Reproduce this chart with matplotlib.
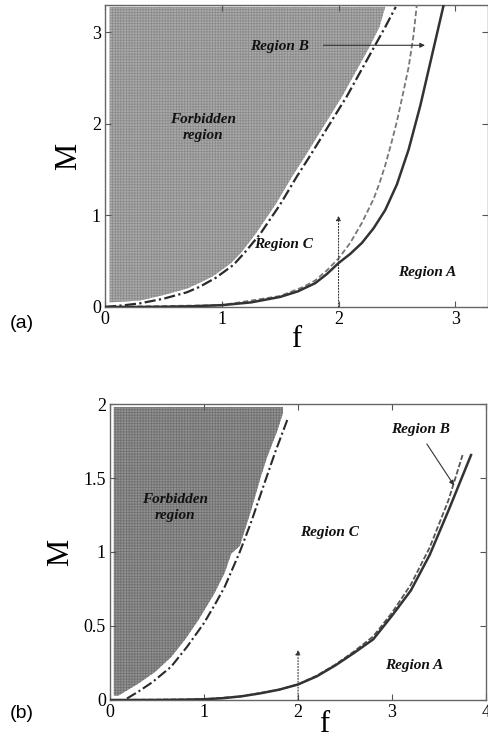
import numpy as np
import matplotlib
matplotlib.use('Agg')
import matplotlib.pyplot as plt

plt.rcParams['font.family'] = ['Liberation Serif', 'DejaVu Serif']
plt.rcParams['hatch.linewidth'] = 0.6

# ---------------- panel (a) data ----------------
a_solid_f = [0, 0.25, 0.5, 0.75, 1.0, 1.25, 1.5, 1.65, 1.8, 1.9, 2.0, 2.1, 2.2,
             2.3, 2.4, 2.5, 2.6, 2.7, 2.8, 2.9]
a_solid_M = [0, 0, 0.002, 0.008, 0.02, 0.05, 0.11, 0.17, 0.26, 0.36, 0.48, 0.58,
             0.70, 0.86, 1.06, 1.34, 1.72, 2.2, 2.75, 3.3]

a_dash_f = [0, 1.0, 1.5, 1.7, 1.8, 1.9, 2.0, 2.1, 2.2, 2.3, 2.35, 2.4, 2.45,
            2.5, 2.55, 2.6, 2.64, 2.67]
a_dash_M = [0, 0.02, 0.12, 0.22, 0.29, 0.40, 0.53, 0.70, 0.92, 1.18, 1.35, 1.55,
            1.78, 2.03, 2.32, 2.62, 2.95, 3.3]

a_dd_f = [0, 0.17, 0.3, 0.5, 0.7, 0.81, 0.95, 1.1, 1.2, 1.33, 1.5, 1.64, 1.76,
          1.9, 2.07, 2.2, 2.3, 2.4, 2.49]
a_dd_M = [0, 0.02, 0.04, 0.09, 0.16, 0.22, 0.32, 0.46, 0.60, 0.80, 1.12, 1.42,
          1.66, 1.95, 2.30, 2.60, 2.83, 3.06, 3.28]

a_forb_f = [0.04, 0.3, 0.5, 0.7, 0.82, 0.93, 1.08, 1.17, 1.29, 1.46, 1.60,
            1.72, 1.86, 2.03, 2.16, 2.26, 2.35, 2.4]
a_forb_M = [0.05, 0.07, 0.13, 0.2, 0.27, 0.34, 0.48, 0.60, 0.80, 1.12, 1.42,
            1.66, 1.95, 2.30, 2.60, 2.83, 3.06, 3.28]
a_forb_left = 0.04

a_xticks = [0, 1, 2, 3]
a_yticks = [0, 1, 2, 3]
a_xlim = (0, 3.28)
a_ylim = (0, 3.3)

# ---------------- panel (b) data ----------------
b_solid_f = [0, 0.5, 0.8, 1.0, 1.2, 1.4, 1.6, 1.8, 2.0, 2.2, 2.4, 2.6, 2.8,
             3.0, 3.2, 3.4, 3.6, 3.84]
b_solid_M = [0, 0, 0.002, 0.005, 0.012, 0.025, 0.045, 0.07, 0.105, 0.16, 0.235,
             0.32, 0.41, 0.57, 0.74, 0.98, 1.28, 1.655]

b_dash_f = [0, 1.0, 1.4, 1.8, 2.0, 2.2, 2.4, 2.6, 2.8, 3.0, 3.2, 3.4, 3.6, 3.75]
b_dash_M = [0, 0.005, 0.025, 0.07, 0.105, 0.165, 0.24, 0.33, 0.43, 0.59, 0.78,
            1.03, 1.35, 1.655]

b_dd_f = [0.18, 0.30, 0.45, 0.65, 0.82, 1.0, 1.12, 1.22, 1.38, 1.5, 1.64, 1.76, 1.89]
b_dd_M = [0.01, 0.056, 0.12, 0.225, 0.36, 0.52, 0.65, 0.765, 1.0, 1.2, 1.46, 1.68, 1.9]

b_forb_f = [0.09, 0.30, 0.48, 0.65, 0.80, 0.94, 1.11, 1.22, 1.29, 1.38, 1.50,
            1.60, 1.67, 1.78, 1.84, 1.84]
b_forb_M = [0.03, 0.11, 0.19, 0.29, 0.41, 0.54, 0.72, 0.86, 0.99, 1.04, 1.28,
            1.50, 1.64, 1.82, 1.94, 1.98]
b_forb_left = 0.04

b_xticks = [0, 1, 2, 3, 4]
b_yticks = [0, 0.5, 1, 1.5, 2]
b_yticklabels = ['0', '0.5', '1', '1.5', '2']
b_xlim = (0, 4)
b_ylim = (0, 2)

fig = plt.figure(figsize=(4.89, 7.39), dpi=100)
ax_a = fig.add_axes([0.2147, 0.5846, 0.7833, 0.4086])
ax_b = fig.add_axes([0.2250, 0.0528, 0.7690, 0.4005])

lab_kw = dict(fontsize=11, fontweight='bold', fontstyle='italic',
              ha='center', va='center', color='#111111')


def style_axes(ax, xticks, yticks, xlim, ylim):
    ax.set_xlim(*xlim)
    ax.set_ylim(*ylim)
    ax.set_xticks(xticks)
    ax.set_yticks(yticks)
    ax.tick_params(direction='in', top=True, right=True, length=4,
                   width=0.8, color='#555555', labelsize=13, pad=3)
    for s in ax.spines.values():
        s.set_color('#666666')
        s.set_linewidth(1.0)
    ax.set_xlabel('f', fontsize=22, labelpad=-2)
    ax.set_ylabel('M', fontsize=22, labelpad=6)


# ---------------- (a) ----------------
ax_a.fill_betweenx(a_forb_M, a_forb_left, a_forb_f, facecolor='#ababab',
                   edgecolor='#8c8c8c', hatch='++++++', linewidth=0, zorder=1)
ax_a.plot(a_dd_f, a_dd_M, color='#2a2a2a', lw=1.6, ls=(0, (5, 1.5, 1, 1.5)), zorder=3)
ax_a.plot(a_dash_f, a_dash_M, color='#777777', lw=1.3, ls=(0, (3, 1.5)), zorder=3)
ax_a.plot(a_solid_f, a_solid_M, color='#333333', lw=1.8, zorder=4)
ax_a.annotate('', xy=(2.0, 1.0), xytext=(2.0, 0.0),
              arrowprops=dict(arrowstyle='-|>', lw=0.8, ls=':', color='#333333',
                              mutation_scale=7, shrinkA=0, shrinkB=0))
ax_a.annotate('', xy=(2.74, 2.86), xytext=(1.87, 2.86),
              arrowprops=dict(arrowstyle='-|>', lw=0.8, color='#333333',
                              mutation_scale=7, shrinkA=0, shrinkB=0))
ax_a.text(1.49, 2.85, 'Region B', **lab_kw)
ax_a.text(0.84, 1.96, 'Forbidden\nregion', linespacing=1.25, **lab_kw)
ax_a.text(1.53, 0.68, 'Region C', **lab_kw)
ax_a.text(2.76, 0.38, 'Region A', **lab_kw)
style_axes(ax_a, a_xticks, a_yticks, a_xlim, a_ylim)

# ---------------- (b) ----------------
ax_b.fill_betweenx(b_forb_M, b_forb_left, b_forb_f, facecolor='#929292',
                   edgecolor='#727272', hatch='++++++', linewidth=0, zorder=1)
ax_b.plot(b_dd_f, b_dd_M, color='#2a2a2a', lw=1.5, ls=(0, (5, 1.5, 1, 1.5)), zorder=3)
ax_b.plot(b_dash_f, b_dash_M, color='#555555', lw=1.3, ls=(0, (3, 1.2)), zorder=3)
ax_b.plot(b_solid_f, b_solid_M, color='#333333', lw=1.8, zorder=4)
ax_b.annotate('', xy=(2.0, 0.34), xytext=(2.0, 0.0),
              arrowprops=dict(arrowstyle='-|>', lw=0.8, ls=':', color='#333333',
                              mutation_scale=7, shrinkA=0, shrinkB=0))
ax_b.annotate('', xy=(3.66, 1.45), xytext=(3.37, 1.73),
              arrowprops=dict(arrowstyle='-|>', lw=0.8, color='#333333',
                              mutation_scale=7, shrinkA=0, shrinkB=0))
ax_b.text(3.30, 1.83, 'Region B', **lab_kw)
ax_b.text(0.69, 1.30, 'Forbidden\nregion', linespacing=1.25, **lab_kw)
ax_b.text(2.33, 1.13, 'Region C', **lab_kw)
ax_b.text(3.23, 0.23, 'Region A', **lab_kw)
style_axes(ax_b, b_xticks, b_yticks, b_xlim, b_ylim)
ax_b.set_yticklabels(b_yticklabels)
ax_b.xaxis.set_label_coords(0.57, -0.035)
ax_b.xaxis.label.set_va('top')

fig.text(22 / 489, 1 - 323 / 739, '(a)', fontsize=14, family='Liberation Sans',
         ha='center', va='center')
fig.text(22 / 489, 1 - 713 / 739, '(b)', fontsize=14, family='Liberation Sans',
         ha='center', va='center')

fig.savefig('out.png', dpi=100)
